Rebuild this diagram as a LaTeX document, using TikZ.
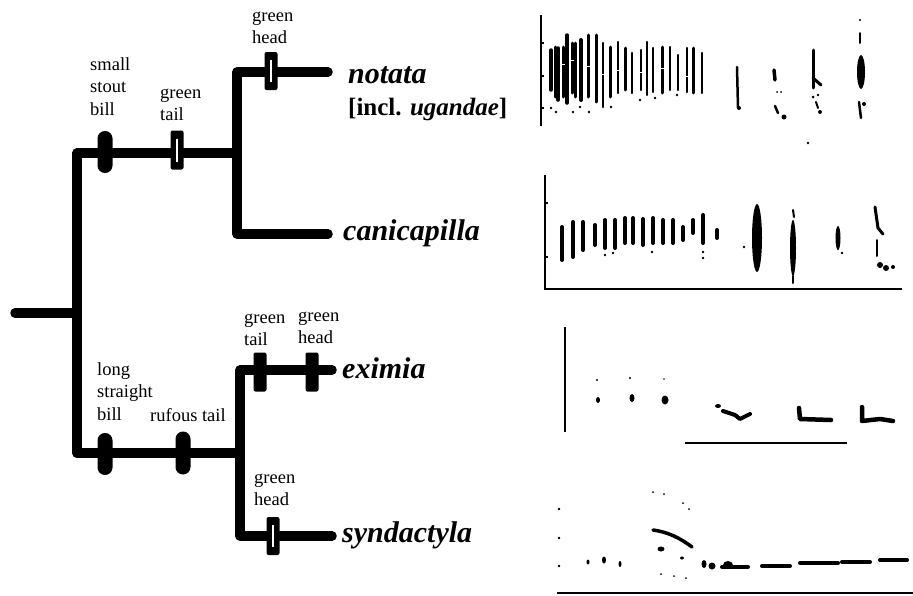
\documentclass[tikz,border=0pt]{standalone}
\usepackage{fontspec}
\setmainfont{Liberation Serif}
\newcommand\stk[1]{\begin{tabular}[t]{@{}l@{}}#1\end{tabular}}
\begin{document}
\begin{tikzpicture}[x=1pt,y=-1pt,
 branch/.style={line width=9.5pt,line cap=round,line join=round},
 ovalmark/.style={fill=black,draw=none,minimum width=15pt,minimum height=42pt,rounded corners=7.4pt,inner sep=0},
 solidmark/.style={fill=black,draw=none,minimum width=13pt,minimum height=39pt,rounded corners=2pt,inner sep=0},
 slitmark/.style={solidmark,path picture={\draw[white,line width=1.1pt] ([yshift=-8pt]path picture bounding box.north) -- ([yshift=8pt]path picture bounding box.south);}},
 lab/.style={anchor=base west,inner sep=0,font=\fontsize{18.5}{22.5}\selectfont},
 sp/.style={anchor=base west,inner sep=0,font=\fontsize{30}{36}\selectfont\bfseries\itshape},
 ax/.style={line width=1.8pt},
 syl/.style={line width=3pt,line cap=round},
 thin/.style={line width=2pt,line cap=round},
]
\useasboundingbox (0,0) rectangle (913,595);

% ---------- tree ----------
\coordinate (rootL) at (15,313);
\coordinate (rootJ) at (77,313);
\coordinate (upC) at (77,153);
\coordinate (lowC) at (77,453);
\coordinate (upJ) at (237,153);
\coordinate (notC) at (237,72);
\coordinate (canC) at (237,234);
\coordinate (notT) at (328,72);
\coordinate (canT) at (328,234);
\coordinate (lowJ) at (240,453);
\coordinate (exiC) at (240,370);
\coordinate (synC) at (240,536);
\coordinate (exiT) at (332,370);
\coordinate (synT) at (332,536);

\draw[branch] (rootL) -- (rootJ);
\draw[branch] (upC) -- (lowC);
\draw[branch] (upC) -- (upJ);
\draw[branch] (lowC) -- (lowJ);
\draw[branch] (notT) -- (notC) -- (canC) -- (canT);
\draw[branch] (exiT) -- (exiC) -- (synC) -- (synT);

% ---------- character marks ----------
\node[ovalmark] (sbill) at (105,152) {};
\node[slitmark] (gtailU) at (177,150) {};
\node[slitmark,minimum height=38pt] (gheadN) at (271,71) {};
\node[ovalmark] (lbill) at (105,454) {};
\node[ovalmark,minimum height=43pt] (rtail) at (183,453) {};
\node[solidmark] (gtailE) at (260,372) {};
\node[solidmark] (gheadE) at (312,372) {};
\node[slitmark,minimum height=38pt] (gheadS) at (273,536) {};

% ---------- labels ----------
\node[lab] (l1) at (90,70) {\stk{small\\stout\\bill}};
\node[lab] (l2) at (160,98) {\stk{green\\tail}};
\node[lab] (l3) at (252,21) {\stk{green\\head}};
\node[lab] (l4) at (97,375) {\stk{long\\straight\\bill}};
\node[lab] (l5) at (150,421) {rufous tail};
\node[lab] (l6) at (244,323) {\stk{green\\tail}};
\node[lab] (l7) at (298,321) {\stk{green\\head}};
\node[lab] (l8) at (254,483) {\stk{green\\head}};

\node[sp] (notata) at (348,83) {notata};
\node[anchor=base west,inner sep=0,font=\fontsize{25}{30}\selectfont\bfseries] (incl) at (348,115) {[incl. \textit{ugandae}]};
\node[sp] (cani) at (343,240) {canicapilla};
\node[sp] (exim) at (342,378) {eximia};
\node[sp] (synd) at (342,542) {syndactyla};

% ---------- sonagram 1 (notata) ----------
\draw[ax] (541,15) -- (541,126);
\foreach \y in {43,76,108} \draw[ax] (541,\y) -- (544,\y);
\foreach \x/\t/\b/\w in {551/50/90/3.5,555/47/97/3,558/48/100/3.5,563/47/97/3,567/35/103/3.5,572/43/93/3,575/43/97/3,581/40/100/4,588/35/97/3,596/35/102/3,603/43/107/2.5,610/47/97/3,618/42/93/2.5,625/48/90/3,632/53/93/2.5,641/50/90/2.5,647/42/95/2.5,653/48/92/2.5,662/47/93/3,670/47/90/2.5,678/55/90/2.5,687/48/92/2.5,693/48/93/3,702/53/93/2.5}
  \draw[syl,line width=\w pt] (\x,\t) -- (\x,\b);
\foreach \x/\y in {563/64,572/60,588/66,603/74,618/70,641/72,662/68,687/76}
  \draw[white,line width=1pt] (\x-2,\y) -- (\x+2,\y);
\foreach \x/\y in {551/108,556/112,573/112,580/107,589/112,611/107,640/100,655/98,677/95,808/143}
  \fill (\x,\y) circle (1.3);
\draw[thin,line width=2.5pt] (737,67) -- (738,108);
\fill (739,108) circle (2);
\draw[thin,line width=3.5pt] (774,70) -- (775,80);
\fill (777,92) circle (1) (781,92) circle (1) (784,117) circle (2.5);
\draw[thin,line width=2.5pt] (775,106) -- (778,113);
\draw[thin,line width=3pt] (813,50) -- (813,88);
\draw[thin,line width=3pt] (813,78) -- (821,85);
\fill (813,97) circle (1.5) (818,95) circle (1.3) (820,112) circle (2);
\draw[thin] (816,102) -- (818,108);
\fill (860,20) circle (1.2);
\draw[thin] (860,33) -- (860,43);
\fill (861,72) ellipse (4 and 17);
\draw[thin,line width=2.5pt] (859,102) -- (861,118);
\fill (864,104) circle (2);

% ---------- sonagram 2 (canicapilla) ----------
\draw[ax] (545,175) -- (545,289) -- (902,289);
\foreach \y in {203,257} \draw[ax] (545,\y) -- (548,\y);
\foreach \x/\t/\b in {562/227/260,573/222/257,583/222/250,595/225/245,605/220/248,615/220/248,625/218/243,633/218/243,643/219/245,653/218/243,663/220/243,673/220/243,683/227/240,693/220/233,703/215/243,717/230/238}
  \draw[syl,line width=4pt] (\x,\t) -- (\x,\b);
\foreach \x/\y in {605/255,613/253,652/252,703/252,703/258,744/247,842/253}
  \fill (\x,\y) circle (1.3);
\fill (757,238) ellipse (5 and 34);
\fill (793,248) ellipse (3 and 28);
\draw[thin] (793,210) -- (794,217);
\draw[thin] (793,276) -- (793,283);
\fill (838,238) ellipse (2.5 and 12);
\draw[thin,line width=3pt] (875,207) -- (878,228) -- (883,234);
\draw[thin] (877,240) -- (877,256);
\fill (880,265) circle (3) (886,268) circle (3) (893,267) circle (2);

% ---------- sonagram 3 (eximia) ----------
\draw[line width=1.5pt] (565,327) -- (565,432);
\fill (597,380) circle (1.2) (598,400) ellipse (2 and 3);
\fill (630,378) circle (1.2) (632,398) ellipse (2.5 and 4);
\fill (664,379) circle (0.8) (665,400) ellipse (3.5 and 4.5);
\fill (718,406) ellipse (3 and 2);
\draw[line width=4pt,line cap=round,line join=round] (723,411) -- (735,415) -- (740,419) -- (750,414);
\draw[line width=4.5pt,line cap=round,line join=round] (799,408) -- (800,419) -- (831,420);
\draw[line width=4.5pt,line cap=round,line join=round] (862,407) -- (862,421) -- (880,419) -- (893,421);
\draw[line width=1.5pt] (685,443) -- (847,443);

% ---------- sonagram 4 (syndactyla) ----------
\foreach \y in {509,538,566} \fill (559,\y) circle (1.3);
\fill (588,562) ellipse (1.5 and 2.5) (604,560) ellipse (2 and 3.5) (620,564) ellipse (1.5 and 3);
\draw[line width=3.5pt,line cap=round] (653,530) .. controls (668,532) and (680,538) .. (692,547);
\fill (661,549) ellipse (3.5 and 2.5) (682,558) ellipse (2 and 1.5);
\foreach \x/\y in {653/492,664/494,683/503,689/509,661/574,674/576,686/578}
  \fill (\x,\y) circle (1);
\fill (704,564) ellipse (2.5 and 4) (712,566) circle (3.5) (728,565) ellipse (5 and 4);
\foreach \a/\b/\c in {722/748/567,762/790/566,800/838/563,842/870/562,880/907/560}
  \draw[line width=4pt,line cap=round] (\a,\c) -- (\b,\c);
\draw[line width=2pt] (557,593) -- (913,593);
\end{tikzpicture}
\end{document}
